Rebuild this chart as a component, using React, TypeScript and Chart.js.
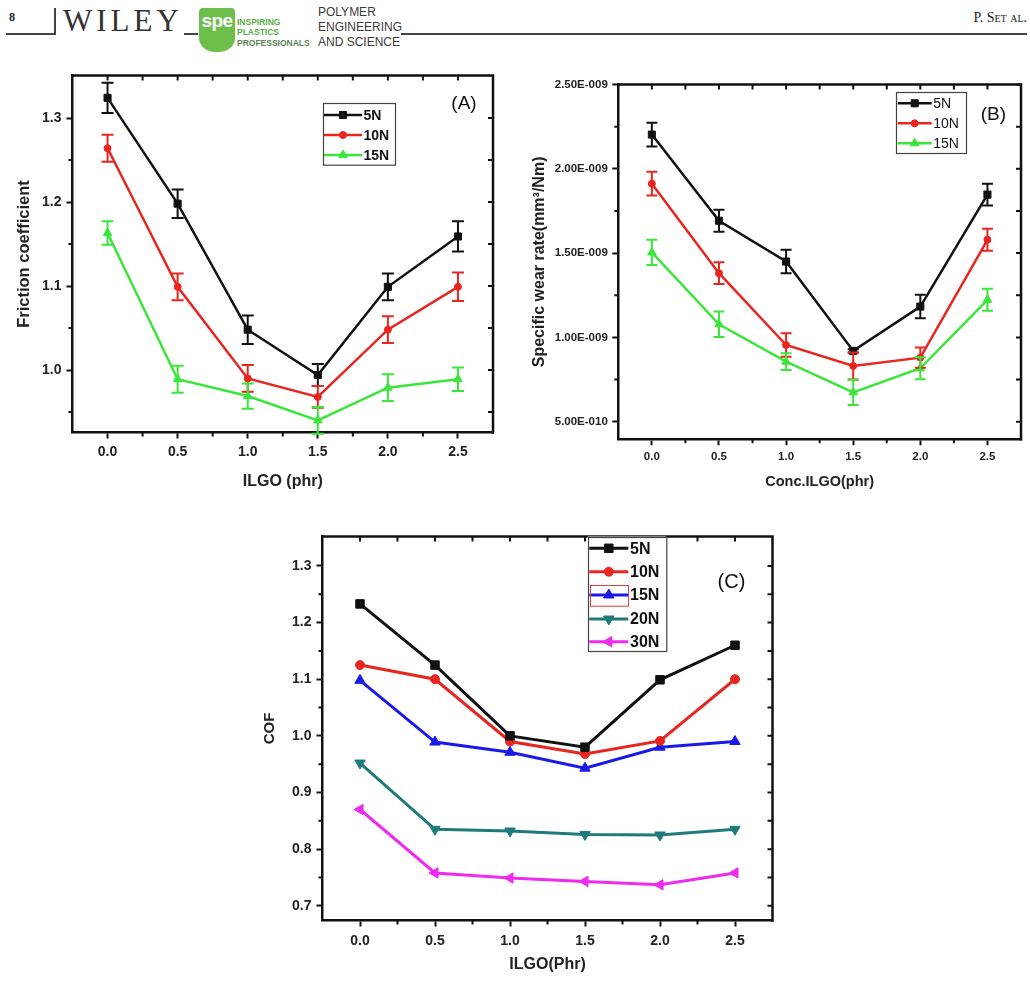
import React, { useEffect, useRef } from 'react';
import { Chart, registerables } from 'chart.js';

Chart.register(...registerables);

const SANS = '"Liberation Sans", Arial, Helvetica, sans-serif';
const SERIF = '"Liberation Serif", "Times New Roman", serif';

// ---------- shared x axis (ILGO content, phr) ----------
const ilgoPhr = [0, 0.5, 1.0, 1.5, 2.0, 2.5];
const ilgoTicks = [0, 0.5, 1.0, 1.5, 2.0, 2.5];
const ilgoMinorTicks = [0.25, 0.75, 1.25, 1.75, 2.25];

// ---------- Panel A: friction coefficient ----------
const frictionTicks = [1.0, 1.1, 1.2, 1.3];
const frictionMinorTicks = [0.95, 1.05, 1.15, 1.25];
const friction5N = [1.324, 1.198, 1.048, 0.994, 1.099, 1.159];
const friction5NErr = [0.018, 0.017, 0.017, 0.013, 0.016, 0.018];
const friction10N = [1.264, 1.099, 0.99, 0.968, 1.048, 1.099];
const friction10NErr = [0.016, 0.016, 0.016, 0.013, 0.016, 0.017];
const friction15N = [1.163, 0.989, 0.969, 0.94, 0.979, 0.989];
const friction15NErr = [0.014, 0.016, 0.015, 0.016, 0.016, 0.014];

// ---------- Panel B: specific wear rate (values in units of 1E-009 mm3/Nm) ----------
const WEAR_UNIT = 1e-9;
const wearTicks = [0.5, 1.0, 1.5, 2.0, 2.5];
const wearMinorTicks = [0.75, 1.25, 1.75, 2.25];
const wear5N = [2.203, 1.692, 1.45, 0.92, 1.183, 1.847];
const wear5NErr = [0.07, 0.065, 0.07, 0.01, 0.07, 0.065];
const wear10N = [1.912, 1.381, 0.955, 0.831, 0.88, 1.579];
const wear10NErr = [0.07, 0.065, 0.07, 0.08, 0.06, 0.065];
const wear15N = [1.504, 1.078, 0.856, 0.674, 0.817, 1.223];
const wear15NErr = [0.075, 0.075, 0.05, 0.075, 0.065, 0.065];

// ---------- Panel C: COF ----------
const cofTicks = [0.7, 0.8, 0.9, 1.0, 1.1, 1.2, 1.3];
const cofMinorTicks = [0.75, 0.85, 0.95, 1.05, 1.15, 1.25];
const cof5N = [1.233, 1.125, 1.0, 0.98, 1.099, 1.16];
const cof10N = [1.125, 1.1, 0.99, 0.968, 0.991, 1.1];
const cof15N = [1.098, 0.989, 0.971, 0.943, 0.98, 0.99];
const cof20N = [0.952, 0.835, 0.832, 0.826, 0.825, 0.835];
const cof30N = [0.87, 0.758, 0.749, 0.743, 0.737, 0.758];

const BLACK = '#111111';
const RED = '#e8251f';
const GREEN = '#3be63b';
const BLUE = '#1a1ae8';
const TEAL = '#1f7a7a';
const MAGENTA = '#ee2bee';

function formatE(v: number): string {
  const real = v * WEAR_UNIT;
  const exp = Math.floor(Math.log10(real) + 1e-9);
  const mant = real / Math.pow(10, exp);
  const sign = exp < 0 ? '-' : '+';
  return `${mant.toFixed(2)}E${sign}${String(Math.abs(exp)).padStart(3, '0')}`;
}

function drawMarker(ctx: CanvasRenderingContext2D, style: string, rotDeg: number, x: number, y: number, r: number, color: string) {
  ctx.save();
  ctx.fillStyle = color;
  ctx.strokeStyle = color;
  ctx.lineWidth = 1;
  ctx.beginPath();
  if (style === 'rect') {
    const s = r * Math.SQRT1_2;
    ctx.rect(x - s, y - s, 2 * s, 2 * s);
  } else if (style === 'circle') {
    ctx.arc(x, y, r, 0, Math.PI * 2);
  } else {
    let a = (rotDeg * Math.PI) / 180;
    ctx.moveTo(x + Math.sin(a) * r, y - Math.cos(a) * r);
    for (let k = 0; k < 2; k++) {
      a += (2 * Math.PI) / 3;
      ctx.lineTo(x + Math.sin(a) * r, y - Math.cos(a) * r);
    }
    ctx.closePath();
  }
  ctx.fill();
  ctx.stroke();
  ctx.restore();
}

function series(label: string, ys: number[], color: string, pointStyle: string, pointRotation: number, pointRadius: number, lineWidth: number, errs?: number[]) {
  return {
    label,
    data: ilgoPhr.map((x, i) => ({ x, y: ys[i] })),
    borderColor: color,
    backgroundColor: color,
    pointBackgroundColor: color,
    pointBorderColor: color,
    pointStyle,
    pointRotation,
    pointRadius,
    pointBorderWidth: 1,
    borderWidth: lineWidth,
    tension: 0,
    errorBars: errs,
  };
}

function makeErrorBarPlugin(capHalf: number, lineWidth: number) {
  return {
    id: 'errorBars',
    afterDatasetsDraw(chart: any) {
      const ctx = chart.ctx as CanvasRenderingContext2D;
      const xs = chart.scales.x;
      const ys = chart.scales.y;
      chart.data.datasets.forEach((ds: any) => {
        const errs: number[] | undefined = ds.errorBars;
        if (!errs) return;
        ctx.save();
        ctx.strokeStyle = ds.borderColor;
        ctx.lineWidth = lineWidth;
        ctx.beginPath();
        ds.data.forEach((p: any, j: number) => {
          const e = errs[j];
          if (!e) return;
          const px = xs.getPixelForValue(p.x);
          const yt = ys.getPixelForValue(p.y + e);
          const yb = ys.getPixelForValue(p.y - e);
          ctx.moveTo(px, yt);
          ctx.lineTo(px, yb);
          ctx.moveTo(px - capHalf, yt);
          ctx.lineTo(px + capHalf, yt);
          ctx.moveTo(px - capHalf, yb);
          ctx.lineTo(px + capHalf, yb);
        });
        ctx.stroke();
        ctx.restore();
      });
    },
  };
}

function makeFramePlugin(cfg: { yMajor: number[]; yMinor: number[]; width: number; inLen: number; minorOut: number }) {
  return {
    id: 'frame',
    afterDraw(chart: any) {
      const ctx = chart.ctx as CanvasRenderingContext2D;
      const a = chart.chartArea;
      const xs = chart.scales.x;
      const ys = chart.scales.y;
      ctx.save();
      ctx.strokeStyle = BLACK;
      ctx.lineWidth = cfg.width;
      ctx.lineCap = 'square';
      ctx.beginPath();
      ctx.moveTo(a.left, a.top);
      ctx.lineTo(a.right, a.top);
      ctx.lineTo(a.right, a.bottom);
      ctx.stroke();
      ctx.lineCap = 'butt';
      ctx.lineWidth = 2;
      ctx.beginPath();
      [...ilgoTicks, ...ilgoMinorTicks].forEach((v) => {
        const px = xs.getPixelForValue(v);
        ctx.moveTo(px, a.top);
        ctx.lineTo(px, a.top + cfg.inLen);
      });
      [...cfg.yMajor, ...cfg.yMinor].forEach((v) => {
        const py = ys.getPixelForValue(v);
        ctx.moveTo(a.right, py);
        ctx.lineTo(a.right - cfg.inLen, py);
      });
      ilgoMinorTicks.forEach((v) => {
        const px = xs.getPixelForValue(v);
        ctx.moveTo(px, a.bottom);
        ctx.lineTo(px, a.bottom + cfg.minorOut);
      });
      cfg.yMinor.forEach((v) => {
        const py = ys.getPixelForValue(v);
        ctx.moveTo(a.left, py);
        ctx.lineTo(a.left - cfg.minorOut, py);
      });
      ctx.stroke();
      ctx.restore();
    },
  };
}

type LegendCfg = {
  box: { x: number; y: number; w: number; h: number };
  rows: number[];
  sampleX0: number;
  sampleX1: number;
  textX: number;
  font: string;
  lineWidth: number;
  highlight?: { index: number; x: number; y: number; w: number; h: number };
  panel: { text: string; x: number; y: number; font: string };
};

function makeLegendPlugin(cfg: LegendCfg) {
  return {
    id: 'insetLegend',
    afterDraw(chart: any) {
      const ctx = chart.ctx as CanvasRenderingContext2D;
      const a = chart.chartArea;
      ctx.save();
      ctx.fillStyle = '#ffffff';
      ctx.fillRect(a.left + cfg.box.x, a.top + cfg.box.y, cfg.box.w, cfg.box.h);
      ctx.strokeStyle = '#444444';
      ctx.lineWidth = 1.2;
      ctx.strokeRect(Math.round(a.left + cfg.box.x) + 0.5, Math.round(a.top + cfg.box.y) + 0.5, cfg.box.w, cfg.box.h);
      chart.data.datasets.forEach((ds: any, i: number) => {
        const y = a.top + cfg.rows[i];
        const x0 = a.left + cfg.sampleX0;
        const x1 = a.left + cfg.sampleX1;
        ctx.strokeStyle = ds.borderColor;
        ctx.lineWidth = cfg.lineWidth;
        ctx.beginPath();
        ctx.moveTo(x0, y);
        ctx.lineTo(x1, y);
        ctx.stroke();
        drawMarker(ctx, ds.pointStyle, ds.pointRotation || 0, (x0 + x1) / 2, y, ds.pointRadius, ds.borderColor);
        ctx.fillStyle = '#111111';
        ctx.font = cfg.font;
        ctx.textAlign = 'left';
        ctx.textBaseline = 'middle';
        ctx.fillText(ds.label, a.left + cfg.textX, y + 1);
      });
      if (cfg.highlight) {
        const h = cfg.highlight;
        ctx.strokeStyle = '#e04040';
        ctx.lineWidth = 1;
        ctx.strokeRect(a.left + h.x + 0.5, a.top + h.y + 0.5, h.w, h.h);
      }
      ctx.fillStyle = '#111111';
      ctx.font = cfg.panel.font;
      ctx.textAlign = 'center';
      ctx.textBaseline = 'middle';
      ctx.fillText(cfg.panel.text, a.left + cfg.panel.x, a.top + cfg.panel.y);
      ctx.restore();
    },
  };
}

type PanelCfg = {
  datasets: any[];
  yMin: number;
  yMax: number;
  yTicks: number[];
  yMinor: number[];
  yFormat: (v: number) => string;
  yAxisWidth: number;
  xAxisHeight: number;
  padding: { left: number; top: number; right: number; bottom: number };
  tickSize: number;
  xTickPad: number;
  yTickPad: number;
  xTitle: string;
  yTitle: string;
  xTitleSize: number;
  yTitleSize: number;
  xTitlePad: number;
  yTitlePad: number;
  legend: LegendCfg;
  errCap: number;
};

function buildConfig(p: PanelCfg): any {
  const tickFont = { family: SANS, size: p.tickSize, weight: 'bold' };
  const grid = { display: true, drawOnChartArea: false, drawTicks: true, tickLength: 6, tickWidth: 2, tickColor: BLACK, color: BLACK };
  const border = { display: true, color: BLACK, width: 2.5 };
  return {
    type: 'line',
    data: { datasets: p.datasets },
    options: {
      animation: false,
      responsive: false,
      devicePixelRatio: 1,
      layout: { padding: p.padding },
      plugins: { legend: { display: false }, tooltip: { enabled: false } },
      scales: {
        x: {
          type: 'linear',
          min: -0.25,
          max: 2.75,
          afterBuildTicks: (s: any) => {
            s.ticks = ilgoTicks.map((v) => ({ value: v }));
          },
          afterFit: (s: any) => {
            s.height = p.xAxisHeight;
          },
          ticks: {
            font: tickFont,
            color: '#222222',
            padding: p.xTickPad,
            autoSkip: false,
            maxRotation: 0,
            callback: (v: any) => Number(v).toFixed(1),
          },
          grid,
          border,
          title: {
            display: true,
            text: p.xTitle,
            font: { family: SANS, size: p.xTitleSize, weight: 'bold', lineHeight: 1.2 },
            color: '#222222',
            padding: { top: 0, bottom: p.xTitlePad },
          },
        },
        y: {
          type: 'linear',
          min: p.yMin,
          max: p.yMax,
          afterBuildTicks: (s: any) => {
            s.ticks = p.yTicks.map((v) => ({ value: v }));
          },
          afterFit: (s: any) => {
            s.width = p.yAxisWidth;
          },
          ticks: {
            font: tickFont,
            color: '#222222',
            padding: p.yTickPad,
            autoSkip: false,
            callback: (v: any) => p.yFormat(Number(v)),
          },
          grid,
          border,
          title: {
            display: true,
            text: p.yTitle,
            font: { family: SANS, size: p.yTitleSize, weight: 'bold', lineHeight: 1.2 },
            color: '#222222',
            padding: { top: p.yTitlePad, bottom: 0 },
          },
        },
      },
    },
    plugins: [
      makeErrorBarPlugin(p.errCap, 2),
      makeFramePlugin({ yMajor: p.yTicks, yMinor: p.yMinor, width: 2.5, inLen: 5, minorOut: 4 }),
      makeLegendPlugin(p.legend),
    ],
  };
}

export default function App() {
  const refA = useRef<HTMLCanvasElement>(null);
  const refB = useRef<HTMLCanvasElement>(null);
  const refC = useRef<HTMLCanvasElement>(null);

  useEffect(() => {
    const cfgA = buildConfig({
      datasets: [
        series('5N', friction5N, BLACK, 'rect', 0, 5, 2.5, friction5NErr),
        series('10N', friction10N, RED, 'circle', 0, 3.5, 2.5, friction10NErr),
        series('15N', friction15N, GREEN, 'triangle', 0, 5, 2.5, friction15NErr),
      ],
      yMin: 0.9256,
      yMax: 1.3506,
      yTicks: frictionTicks,
      yMinor: frictionMinorTicks,
      yFormat: (v) => v.toFixed(1),
      yAxisWidth: 72.5,
      xAxisHeight: 67.5,
      padding: { left: 0, top: 15.5, right: 17, bottom: 0 },
      tickSize: 14,
      xTickPad: 5,
      yTickPad: 5,
      xTitle: 'ILGO (phr)',
      yTitle: 'Friction coefficient',
      xTitleSize: 16,
      yTitleSize: 16.5,
      xTitlePad: 8.7,
      yTitlePad: 15,
      errCap: 6,
      legend: {
        box: { x: 250.5, y: 27.8, w: 72, h: 61.7 },
        rows: [39.5, 59.5, 79.5],
        sampleX0: 251.5,
        sampleX1: 289.5,
        textX: 291,
        font: `bold 14px ${SANS}`,
        lineWidth: 2.5,
        panel: { text: '(A)', x: 391.5, y: 28, font: `19px ${SANS}` },
      },
    });

    const cfgB = buildConfig({
      datasets: [
        series('5N', wear5N, BLACK, 'rect', 0, 5, 2.5, wear5NErr),
        series('10N', wear10N, RED, 'circle', 0, 3.5, 2.5, wear10NErr),
        series('15N', wear15N, GREEN, 'triangle', 0, 5, 2.5, wear15NErr),
      ],
      yMin: 0.3956,
      yMax: 2.5,
      yTicks: wearTicks,
      yMinor: wearMinorTicks,
      yFormat: formatE,
      yAxisWidth: 108.3,
      xAxisHeight: 60.7,
      padding: { left: 0, top: 24.5, right: 9, bottom: 0 },
      tickSize: 11.5,
      xTickPad: 4.5,
      yTickPad: 4.5,
      xTitle: 'Conc.ILGO(phr)',
      yTitle: 'Specific wear rate(mm\u00B3/Nm)',
      xTitleSize: 14.5,
      yTitleSize: 16,
      xTitlePad: 9.6,
      yTitlePad: 20.4,
      errCap: 5.5,
      legend: {
        box: { x: 277.4, y: 7.8, w: 70, h: 61 },
        rows: [18.8, 38.8, 58.8],
        sampleX0: 279.4,
        sampleX1: 313.4,
        textX: 315,
        font: `14px ${SANS}`,
        lineWidth: 2.5,
        panel: { text: '(B)', x: 375, y: 30.5, font: `19px ${SANS}` },
      },
    });

    const cfgC = buildConfig({
      datasets: [
        series('5N', cof5N, BLACK, 'rect', 0, 6, 3),
        series('10N', cof10N, RED, 'circle', 0, 4.5, 3),
        series('15N', cof15N, BLUE, 'triangle', 0, 6, 3),
        series('20N', cof20N, TEAL, 'triangle', 180, 6, 3),
        series('30N', cof30N, MAGENTA, 'triangle', 270, 6, 3),
      ],
      yMin: 0.674,
      yMax: 1.352,
      yTicks: cofTicks,
      yMinor: cofMinorTicks,
      yFormat: (v) => v.toFixed(1),
      yAxisWidth: 82.5,
      xAxisHeight: 62.5,
      padding: { left: 0, top: 16.5, right: 7.5, bottom: 0 },
      tickSize: 14,
      xTickPad: 6,
      yTickPad: 5,
      xTitle: 'ILGO(Phr)',
      yTitle: 'COF',
      xTitleSize: 16,
      yTitleSize: 15,
      xTitlePad: 8.4,
      yTitlePad: 21,
      errCap: 0,
      legend: {
        box: { x: 265.2, y: 0, w: 78.3, h: 114 },
        rows: [11.8, 35.2, 58.5, 82.5, 105.2],
        sampleX0: 266.8,
        sampleX1: 305.8,
        textX: 307.5,
        font: `bold 16px ${SANS}`,
        lineWidth: 3,
        highlight: { index: 2, x: 267.5, y: 48.5, w: 38, h: 20.7 },
        panel: { text: '(C)', x: 409, y: 45.5, font: `20px ${SANS}` },
      },
    });

    const charts = [
      new Chart(refA.current as HTMLCanvasElement, cfgA),
      new Chart(refB.current as HTMLCanvasElement, cfgB),
      new Chart(refC.current as HTMLCanvasElement, cfgC),
    ];
    return () => charts.forEach((c) => c.destroy());
  }, []);

  const abs = (l: number, t: number, extra: React.CSSProperties = {}): React.CSSProperties => ({ position: 'absolute', left: l, top: t, ...extra });

  return (
    <div style={{ position: 'absolute', left: 0, top: 0, width: 1030, height: 983, background: '#ffffff', overflow: 'hidden' }}>
      {/* page header */}
      <div style={abs(9, 11, { font: `bold 12px ${SERIF}`, color: '#222', lineHeight: '13px' })}>8</div>
      <div style={abs(6, 33, { width: 49, height: 1.5, background: '#444' })} />
      <div style={abs(54, 8, { width: 1.5, height: 26.5, background: '#444' })} />
      <div style={abs(63, 4, { font: `31px ${SERIF}`, letterSpacing: 4, color: '#333', lineHeight: '33px' })}>WILEY</div>
      <div style={abs(184, 33, { width: 14, height: 1.5, background: '#444' })} />
      <div
        style={abs(199, 8, {
          width: 36,
          height: 44,
          background: '#6cbf4b',
          borderRadius: '4px 4px 45% 45% / 4px 4px 32% 32%',
        })}
      >
        <div style={{ position: 'absolute', left: 0, top: 2, width: 36, textAlign: 'center', font: `bold 19px ${SANS}`, color: '#fff', letterSpacing: -0.5 }}>spe</div>
      </div>
      <div style={abs(237, 17, { font: `bold 8.5px ${SANS}`, color: '#5aac45', lineHeight: '10.3px' })}>
        <div>INSPIRING</div>
        <div>PLASTICS</div>
        <div style={{ color: '#5e7f58' }}>PROFESSIONALS</div>
      </div>
      <div style={abs(318, 5, { font: `12px ${SANS}`, color: '#3a3a3a', lineHeight: '15px' })}>
        <div>POLYMER</div>
        <div>ENGINEERING</div>
        <div>AND SCIENCE</div>
      </div>
      <div style={abs(401, 33, { width: 626, height: 1.5, background: '#444' })} />
      <div style={abs(900, 10, { width: 127, textAlign: 'right', font: `14px ${SERIF}`, color: '#222', lineHeight: '16px' })}>
        P. S<span style={{ fontVariant: 'small-caps' }}>et al.</span>
      </div>

      {/* panels */}
      <canvas ref={refA} width={510} height={440} style={abs(0, 60, { width: 510, height: 440 })} />
      <canvas ref={refB} width={520} height={440} style={abs(510, 60, { width: 520, height: 440 })} />
      <canvas ref={refC} width={540} height={463} style={abs(240, 520, { width: 540, height: 463 })} />
    </div>
  );
}
